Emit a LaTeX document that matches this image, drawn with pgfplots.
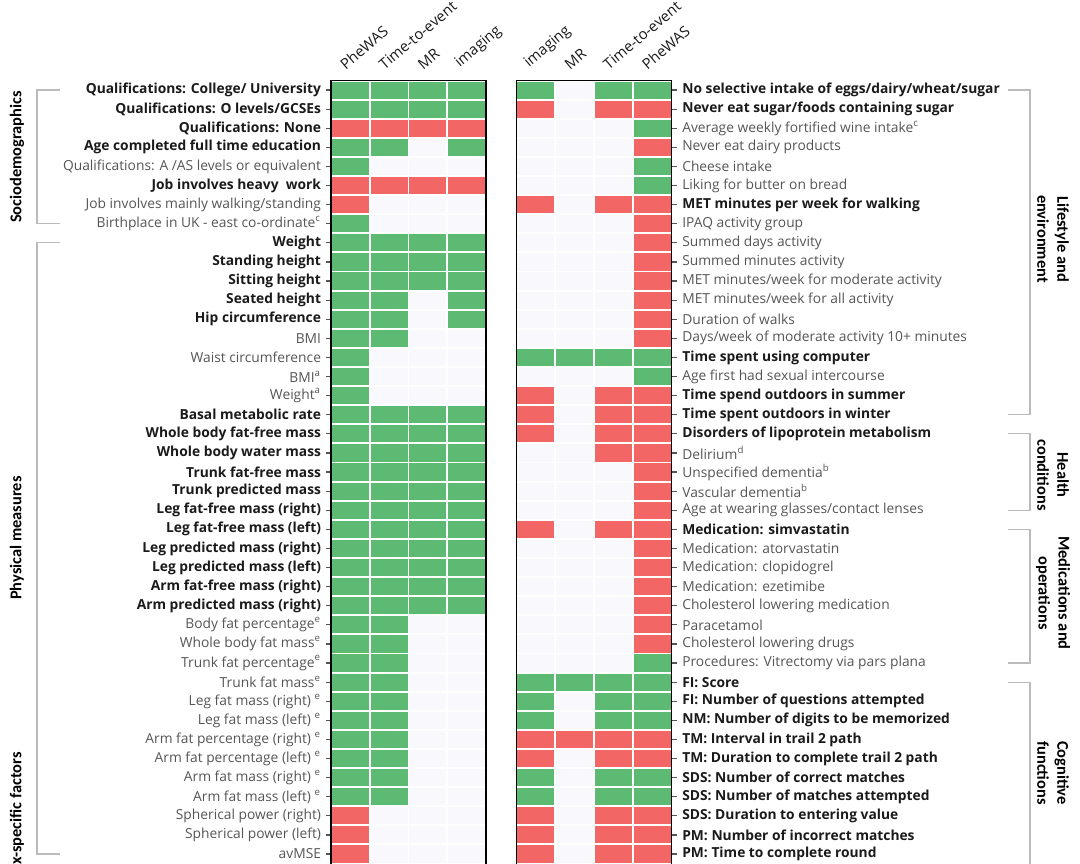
\documentclass[border=0pt]{standalone}
\usepackage{pgfplots}
\pgfplotsset{compat=1.18}
\usepackage{pgfplotstable}
\usepackage{fontspec}
\setmainfont{Open Sans}
\newfontfamily\grpfont{Carlito}
\definecolor{gcol}{HTML}{5DBA73}
\definecolor{rcol}{HTML}{F36666}
\definecolor{ecol}{HTML}{F9F8FD}
\definecolor{lblb}{HTML}{1A1A1A}
\definecolor{lblr}{HTML}{555555}
\definecolor{brk}{HTML}{BBBBBB}
\newcommand{\LB}[1]{\textcolor{lblb}{\bfseries #1}}
\newcommand{\LR}[1]{\textcolor{lblr}{#1}}
\newcommand{\lblfont}{\fontsize{6.9}{8}\selectfont}
\newcommand{\hdrfont}{\fontsize{7.4}{8.5}\selectfont}
\newcommand{\gfont}{\grpfont\bfseries\fontsize{8.2}{10}\selectfont}
\pgfdeclareplotmark{cell}{\pgfpathrectangle{\pgfpoint{-9.2pt}{-4.28pt}}{\pgfpoint{18.4pt}{8.56pt}}\pgfusepathqfill}
\pgfplotsset{cellplot/.style={scatter, only marks, scatter src=explicit symbolic,
  scatter/classes={g={mark=cell,fill=gcol,draw=none}, r={mark=cell,fill=rcol,draw=none}, e={mark=cell,fill=ecol,draw=none}}}}

% g = green (positive), r = red (negative), e = empty
\pgfplotstableread{
pw tte mr img
g g g g
g g g g
r r r r
g g e g
g e e e
r r r r
r e e e
g e e e
g g g g
g g g g
g g g g
g g e g
g g e g
g g e e
g e e e
g e e e
g e e e
g g g g
g g g g
g g g g
g g g g
g g g g
g g g g
g g g g
g g g g
g g g g
g g g g
g g g g
g g e e
g g e e
g g e e
g g e e
g g e e
g g e e
g g e e
g g e e
g g e e
g g e e
r e e e
r e e e
r e e e
}\lefttab

\pgfplotstableread{
img mr tte pw
g e g g
r e r r
e e e g
e e e r
e e e g
e e e g
r e r r
e e e r
e e e r
e e e r
e e e r
e e e r
e e e r
e e e r
g g g g
e e e g
r e r r
r e r r
r e r r
e e r r
e e e r
e e e r
e e e r
r e r r
e e e r
e e e r
e e e r
e e e r
e e e r
e e e r
e e e g
g g g g
g e g g
g e g g
r r r r
r e r r
g e g g
g e g g
r e r r
r e r r
r e r r
}\righttab

\begin{document}
\begin{tikzpicture}
\useasboundingbox (0,0) rectangle (540pt,-431.5pt);
\pgfplotsset{hm/.style={
  anchor=north west, scale only axis, width=77.5pt, height=396.3pt,
  xmin=-0.5, xmax=3.5, ymin=0.5, ymax=42, y dir=reverse,
  axis line style={black, line width=0.8pt},
  xtick={0,1,2,3}, xtick pos=upper, xticklabel pos=upper, xtick style={draw=none},
  xticklabel style={rotate=40, anchor=south west, inner sep=0pt, font=\hdrfont, text=lblb, xshift=-0.3pt, yshift=3.2pt},
  ytick={1,...,41}, tick align=outside, major tick length=2.6pt,
  ytick style={lblr, line width=0.6pt},
  yticklabel style={font=\lblfont, inner sep=0pt},
}}
\begin{axis}[hm, at={(165.5pt,-40.25pt)},
  xticklabels={PheWAS,Time-to-event,MR,imaging},
  ytick pos=left, yticklabel pos=left,
  yticklabel style={xshift=-2.2pt},
  yticklabels={
   \LB{Qualifications: College/ University},
   \LB{Qualifications: O levels/GCSEs},
   \LB{Qualifications: None},
   \LB{Age completed full time education},
   \LR{Qualifications: A /AS levels or equivalent},
   \LB{Job involves heavy\ \ work},
   \LR{Job involves mainly walking/standing},
   \LR{Birthplace in UK - east co-ordinate\textsuperscript{c}},
   \LB{Weight},
   \LB{Standing height},
   \LB{Sitting height},
   \LB{Seated height},
   \LB{Hip circumference},
   \LR{BMI},
   \LR{Waist circumference},
   \LR{BMI\textsuperscript{a}},
   \LR{Weight\textsuperscript{a}},
   \LB{Basal metabolic rate},
   \LB{Whole body fat-free mass},
   \LB{Whole body water mass},
   \LB{Trunk fat-free mass},
   \LB{Trunk predicted mass},
   \LB{Leg fat-free mass (right)},
   \LB{Leg fat-free mass (left)},
   \LB{Leg predicted mass (right)},
   \LB{Leg predicted mass (left)},
   \LB{Arm fat-free mass (right)},
   \LB{Arm predicted mass (right)},
   \LR{Body fat percentage\textsuperscript{e}},
   \LR{Whole body fat mass\textsuperscript{e}},
   \LR{Trunk fat percentage\textsuperscript{e}},
   \LR{Trunk fat mass\textsuperscript{e}},
   \LR{Leg fat mass (right) \textsuperscript{e}},
   \LR{Leg fat mass (left) \textsuperscript{e}},
   \LR{Arm fat percentage (right) \textsuperscript{e}},
   \LR{Arm fat percentage (left) \textsuperscript{e}},
   \LR{Arm fat mass (right) \textsuperscript{e}},
   \LR{Arm fat mass (left) \textsuperscript{e}},
   \LR{Spherical power (right)},
   \LR{Spherical power (left)},
   \LR{avMSE}},
]
\addplot[cellplot] table[x expr=0, y expr=\coordindex+1, meta=pw] {\lefttab};
\addplot[cellplot] table[x expr=1, y expr=\coordindex+1, meta=tte] {\lefttab};
\addplot[cellplot] table[x expr=2, y expr=\coordindex+1, meta=mr] {\lefttab};
\addplot[cellplot] table[x expr=3, y expr=\coordindex+1, meta=img] {\lefttab};
\end{axis}

\begin{axis}[hm, at={(258.25pt,-40.25pt)},
  xticklabels={imaging,MR,Time-to-event,PheWAS},
  ytick pos=right, yticklabel pos=right,
  yticklabel style={xshift=2.6pt},
  yticklabels={
   \LB{No selective intake of eggs/dairy/wheat/sugar},
   \LB{Never eat sugar/foods containing sugar},
   \LR{Average weekly fortified wine intake\textsuperscript{c}},
   \LR{Never eat dairy products},
   \LR{Cheese intake},
   \LR{Liking for butter on bread},
   \LB{MET minutes per week for walking},
   \LR{IPAQ activity group},
   \LR{Summed days activity},
   \LR{Summed minutes activity},
   \LR{MET minutes/week for moderate activity},
   \LR{MET minutes/week for all activity},
   \LR{Duration of walks},
   \LR{Days/week of moderate activity 10+ minutes},
   \LB{Time spent using computer},
   \LR{Age first had sexual intercourse},
   \LB{Time spend outdoors in summer},
   \LB{Time spent outdoors in winter},
   \LB{Disorders of lipoprotein metabolism},
   \LR{Delirium\textsuperscript{d}},
   \LR{Unspecified dementia\textsuperscript{b}},
   \LR{Vascular dementia\textsuperscript{b}},
   \LR{Age at wearing glasses/contact lenses},
   \LB{Medication: simvastatin},
   \LR{Medication: atorvastatin},
   \LR{Medication: clopidogrel},
   \LR{Medication: ezetimibe},
   \LR{Cholesterol lowering medication},
   \LR{Paracetamol},
   \LR{Cholesterol lowering drugs},
   \LR{Procedures: Vitrectomy via pars plana},
   \LB{FI: Score},
   \LB{FI: Number of questions attempted},
   \LB{NM: Number of digits to be memorized},
   \LB{TM: Interval in trail 2 path},
   \LB{TM: Duration to complete trail 2 path},
   \LB{SDS: Number of correct matches},
   \LB{SDS: Number of matches attempted},
   \LB{SDS: Duration to entering value},
   \LB{PM: Number of incorrect matches},
   \LB{PM: Time to complete round}},
]
\addplot[cellplot] table[x expr=0, y expr=\coordindex+1, meta=img] {\righttab};
\addplot[cellplot] table[x expr=1, y expr=\coordindex+1, meta=mr] {\righttab};
\addplot[cellplot] table[x expr=2, y expr=\coordindex+1, meta=tte] {\righttab};
\addplot[cellplot] table[x expr=3, y expr=\coordindex+1, meta=pw] {\righttab};
\end{axis}

\begin{scope}[x=0.5pt, y=-0.5pt]
\draw[brk, line width=0.6pt] (60,90.05) -- (37,90.05) -- (37,223.75) -- (60,223.75);
\draw[brk, line width=0.6pt] (60,242.85) -- (37,242.85) -- (37,854) -- (60,854);
\draw[brk, line width=0.6pt] (1008,90.05) -- (1030,90.05) -- (1030,414.75) -- (1008,414.75);
\draw[brk, line width=0.6pt] (1008,433.85) -- (1030,433.85) -- (1030,510.25) -- (1008,510.25);
\draw[brk, line width=0.6pt] (1008,529.35) -- (1030,529.35) -- (1030,663.05) -- (1008,663.05);
\draw[brk, line width=0.6pt] (1008,682.15) -- (1030,682.15) -- (1030,875);
\node[rotate=90, font=\gfont] at (17,157) {Sociodemographics};
\node[rotate=90, font=\gfont] at (17,538) {Physical measures};
\node[rotate=90, anchor=east, font=\gfont] at (17,745) {Sex-specific factors};
\node[rotate=-90, align=center, font=\gfont] at (1053,239) {Lifestyle and\\environment};
\node[rotate=-90, align=center, font=\gfont] at (1053,475) {Health\\conditions};
\node[rotate=-90, align=center, font=\gfont] at (1053,593) {Medications and\\operations};
\node[rotate=-90, align=center, font=\gfont] at (1053,773) {Cognitive\\functions};
\end{scope}
\end{tikzpicture}
\end{document}
